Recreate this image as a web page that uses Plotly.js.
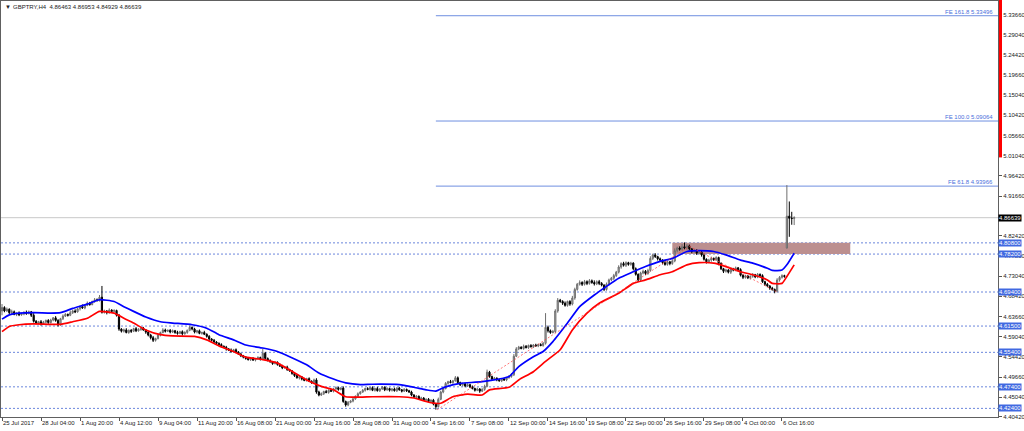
<!DOCTYPE html>
<html><head><meta charset="utf-8">
<script src="https://cdn.plot.ly/plotly-3.0.1.min.js"></script>
<style>html,body{margin:0;padding:0;background:#fff}#chart{width:1024px;height:431px}</style>
</head><body><div id="chart"></div>
<script>
// ---- data (H4 bars, index 0 = 25 Jul 2017 12:00) ----
const closes = [
4.658,4.650,4.654,4.646,4.648,4.642,4.645,4.641,4.643,4.647,
4.644,4.648,4.640,4.626,4.622,4.625,4.620,4.624,4.628,4.623,
4.629,4.634,4.628,4.618,4.632,4.638,4.642,4.640,4.646,4.650,
4.648,4.655,4.660,4.657,4.663,4.668,4.665,4.672,4.676,4.674,
4.682,4.647,4.650,4.646,4.652,4.649,4.651,4.640,4.608,4.603,
4.606,4.600,4.605,4.603,4.609,4.604,4.607,4.610,4.606,4.601,
4.594,4.588,4.582,4.586,4.594,4.600,4.606,4.603,4.605,4.601,
4.604,4.600,4.598,4.602,4.597,4.600,4.605,4.612,4.608,4.601,
4.604,4.598,4.600,4.596,4.591,4.585,4.582,4.578,4.575,4.572,
4.568,4.566,4.562,4.559,4.556,4.560,4.555,4.550,4.546,4.543,
4.540,4.537,4.540,4.536,4.539,4.542,4.538,4.552,4.540,4.535,
4.532,4.528,4.531,4.526,4.522,4.518,4.520,4.514,4.511,4.505,
4.500,4.495,4.497,4.492,4.489,4.493,4.487,4.484,4.490,4.462,
4.455,4.458,4.463,4.461,4.466,4.464,4.469,4.472,4.468,4.471,
4.440,4.432,4.438,4.441,4.446,4.452,4.458,4.462,4.466,4.470,
4.468,4.472,4.466,4.470,4.465,4.469,4.473,4.467,4.470,4.466,
4.469,4.465,4.471,4.467,4.464,4.468,4.465,4.462,4.455,4.450,
4.452,4.446,4.448,4.443,4.445,4.440,4.443,4.434,4.428,4.445,
4.462,4.470,4.482,4.486,4.484,4.488,4.495,4.484,4.478,4.481,
4.476,4.479,4.474,4.470,4.466,4.469,4.464,4.468,4.475,4.508,
4.498,4.492,4.494,4.490,4.488,4.492,4.490,4.495,4.498,4.502,
4.545,4.562,4.566,4.563,4.568,4.565,4.570,4.567,4.571,4.569,
4.572,4.570,4.575,4.612,4.604,4.600,4.602,4.650,4.675,4.672,
4.668,4.663,4.672,4.666,4.680,4.700,4.712,4.716,4.712,4.718,
4.714,4.720,4.716,4.713,4.718,4.714,4.710,4.700,4.712,4.722,
4.726,4.732,4.740,4.752,4.760,4.756,4.762,4.758,4.761,4.748,
4.735,4.722,4.738,4.742,4.737,4.744,4.772,4.780,4.776,4.771,
4.768,4.762,4.758,4.764,4.760,4.766,4.790,4.796,4.793,4.799,
4.796,4.801,4.794,4.788,4.791,4.784,4.787,4.780,4.770,4.764,
4.768,4.772,4.769,4.774,4.760,4.748,4.742,4.745,4.740,4.748,
4.745,4.750,4.746,4.733,4.728,4.731,4.727,4.730,4.734,4.729,
4.735,4.732,4.718,4.712,4.708,4.703,4.700,4.696,4.722,4.728,
4.732,4.730,4.870,4.865,4.86463,4.86639];

// wick lengths in thousandths of a lira
const upperWick = [
8,3,4,2,5,3,2,4,3,2, 4,3,2,5,3,2,4,3,2,3, 3,2,4,3,2,4,3,2,5,3, 4,2,3,5,2,4,3,2,4,3,
5,26,3,2,4,2,3,2,3,2, 3,4,2,3,2,4,3,2,3,2, 2,3,4,2,3,2,4,3,2,3, 3,2,4,2,3,3,2,4,2,3,
2,3,2,4,2,3,2,3,2,2, 3,2,3,2,4,2,3,2,3,2, 2,3,2,3,2,3,2,11,3,2, 3,2,3,2,2,3,2,3,2,2,
3,2,4,2,3,2,3,2,3,4, 3,3,2,4,2,3,2,3,2,2, 4,2,3,2,3,2,3,2,3,2, 3,2,3,2,4,2,3,2,3,2,
2,3,2,3,2,3,2,2,3,2, 3,2,3,2,2,3,2,3,2,4, 3,4,3,2,4,2,4,3,2,3, 2,3,2,3,2,3,2,3,4,6,
3,2,3,2,3,2,3,2,3,4, 5,4,3,2,4,3,2,3,2,3, 2,3,3,33,4,3,4,4,5,3, 3,4,2,3,5,4,3,5,3,4,
3,4,3,5,3,4,3,2,4,3, 3,4,3,4,3,4,3,2,3,2, 3,2,3,4,3,4,5,3,4,2, 3,2,4,3,2,4,5,3,4,6,
10,4,3,2,3,2,3,2,3,2, 3,4,2,3,2,3,2,3,2,3, 2,3,2,3,2,3,2,3,4,2, 3,2,3,2,3,2,3,2,4,3,
3,2,72,34,15,3.14];
const lowerWick = [
10,3,2,4,3,2,4,3,2,3, 3,2,4,3,3,2,4,2,3,3, 2,3,3,4,2,3,2,3,2,3, 3,2,4,2,3,2,3,2,3,2,
2,3,3,4,2,3,2,3,4,3, 3,2,3,4,2,3,2,3,2,4, 3,4,4,3,2,3,2,3,2,3, 2,3,3,2,4,2,3,2,3,3,
3,2,3,2,3,4,2,3,2,3, 3,2,4,2,3,2,3,2,3,3, 3,2,3,2,3,2,3,2,3,2, 2,3,2,3,2,3,2,3,2,3,
3,2,4,3,2,3,2,3,2,4, 3,2,3,2,3,2,3,2,3,2, 3,4,3,2,3,2,3,2,2,3, 2,3,2,3,2,3,2,3,2,3,
3,2,3,2,3,2,3,2,3,2, 3,2,3,2,3,2,3,3,7,2, 2,3,2,3,2,3,2,3,2,3, 3,2,3,2,3,2,4,2,3,2,
3,4,2,3,2,3,2,3,2,3, 3,2,3,2,3,2,3,2,3,2, 3,2,3,3,4,3,2,3,4,3, 4,3,3,4,3,4,3,3,4,3,
4,3,3,4,3,4,3,4,3,3, 3,4,3,3,4,3,4,3,3,4, 3,5,4,3,4,3,3,4,3,4, 3,4,3,3,4,3,3,4,3,3,
3,4,3,4,3,4,3,4,3,4, 3,4,3,3,4,3,4,3,3,4, 3,3,4,3,4,3,3,4,3,3, 3,4,3,4,3,4,3,5,3,4,
3,3,1,43,14.6,15.34];
const gapOpens = [[0, 4.650], [322, 4.796]];

const timeLabels = ['25 Jul 2017','28 Jul 04:00','1 Aug 20:00','4 Aug 12:00','9 Aug 04:00','11 Aug 20:00',
  '16 Aug 08:00','21 Aug 00:00','23 Aug 16:00','28 Aug 08:00','31 Aug 00:00','4 Sep 16:00','7 Sep 08:00',
  '12 Sep 00:00','14 Sep 16:00','19 Sep 08:00','22 Sep 00:00','26 Sep 16:00','29 Sep 08:00','4 Oct 00:00','6 Oct 16:00'];
const barsPerLabel = 16;

const priceTicks = [4.4042,4.4504,4.4966,4.5442,4.5904,4.6366,4.6842,4.7304,4.7780,4.8242,4.8704,
  4.9166,4.9642,5.0104,5.0566,5.1042,5.1504,5.1966,5.2442,5.2904,5.3366];

const supportLevels = [4.808, 4.782, 4.694, 4.615, 4.554, 4.474, 4.424];
const fibLevels = [5.33496, 5.09064, 4.93966];
const fibNames = ['FE 161.8', 'FE 100.0', 'FE 61.8'];
const fibAnchorBar = 178;
const currentPrice = 4.86639;
const lastBarOHLC = [4.86463, 4.86953, 4.84929, 4.86639];
const symbolName = 'GBPTRY,H4';
const zoneBars = [275, 348];
const zonePrices = [4.782, 4.808];

const blueMAx = [0,3,7,13,20,24,29,35,40,46,50,54,59,65,70,78,84,89,95,100,107,113,118,125,130,136,141,147,152,163,169,174,178,182,188,197,208,212,218,222,226,232,237,243,248,253,259,264,270,275,281,286,292,297,303,308,314,316,320,322,325];
const blueMAy = [4.631,4.641,4.645,4.646,4.645,4.646,4.656,4.666,4.676,4.672,4.660,4.649,4.636,4.625,4.622,4.618,4.610,4.595,4.583,4.571,4.564,4.556,4.544,4.525,4.506,4.492,4.483,4.479,4.480,4.479,4.473,4.467,4.464,4.474,4.482,4.486,4.498,4.521,4.544,4.556,4.579,4.622,4.660,4.687,4.707,4.726,4.741,4.753,4.765,4.772,4.788,4.790,4.788,4.780,4.768,4.761,4.749,4.744,4.745,4.757,4.784];
const redMAx = [0,3,7,13,24,29,35,40,46,50,54,59,65,70,79,84,89,95,100,107,113,118,125,131,136,141,147,152,163,169,174,177,180,185,191,197,200,208,212,218,223,229,234,240,245,253,259,264,270,275,281,286,292,297,303,308,314,316,320,322,325];
const redMAy = [4.602,4.614,4.618,4.620,4.619,4.625,4.633,4.649,4.645,4.633,4.622,4.606,4.595,4.592,4.591,4.583,4.569,4.556,4.543,4.537,4.529,4.513,4.490,4.475,4.467,4.451,4.450,4.451,4.451,4.448,4.440,4.436,4.436,4.451,4.457,4.455,4.467,4.473,4.490,4.509,4.533,4.560,4.606,4.645,4.668,4.691,4.714,4.722,4.734,4.741,4.757,4.762,4.761,4.753,4.741,4.734,4.722,4.714,4.714,4.730,4.757];

const trendUpX = [178.5, 282];
const trendUpY = [4.4206, 4.800];
const trendDownX = [282, 318];
const trendDownY = [4.800, 4.694];

// ---- build ----
const idx = closes.map((_, i) => i);
const opens = closes.map((c, i) => i > 0 ? closes[i - 1] : c);
gapOpens.forEach(([i, v]) => { opens[i] = v; });
const highs = closes.map((c, i) => Math.max(c, opens[i]) + upperWick[i] / 1000);
const lows = closes.map((c, i) => Math.min(c, opens[i]) - lowerWick[i] / 1000);

const fmt = v => v.toFixed(5);
const FONT = 'Liberation Sans, Arial, sans-serif';
const xRange = [-0.41, 408.62];
const yRange = [4.4040, 5.3691];
// the tick hidden behind the current-price box in the reference is left without text
const tickText = priceTicks.map(v => Math.abs(v - currentPrice) < 0.006 ? '' : fmt(v));

const traces = [
  {type:'candlestick', x: idx, open: opens, high: highs, low: lows, close: closes,
   increasing:{line:{color:'#6e6e6e', width:1}, fillcolor:'#b4b4b4'},
   decreasing:{line:{color:'#000000', width:1}, fillcolor:'#000000'},
   whiskerwidth:0, hoverinfo:'skip'},
  {type:'scatter', mode:'lines', x: blueMAx, y: blueMAy, line:{color:'#0000ff', width:1.7, shape:'spline', smoothing:0.5}, hoverinfo:'skip'},
  {type:'scatter', mode:'lines', x: redMAx, y: redMAy, line:{color:'#ff0000', width:1.7, shape:'spline', smoothing:0.5}, hoverinfo:'skip'},
  {type:'scatter', mode:'lines', x: trendUpX, y: trendUpY, line:{color:'rgba(255,60,60,0.7)', width:1, dash:'2px,2px'}, hoverinfo:'skip'},
  {type:'scatter', mode:'lines', x: trendDownX, y: trendDownY, line:{color:'rgba(255,60,60,0.7)', width:1, dash:'2px,2px'}, hoverinfo:'skip'}
];

const shapes = [];
shapes.push({type:'rect', xref:'x', yref:'y', x0: zoneBars[0], x1: zoneBars[1], y0: zonePrices[0], y1: zonePrices[1],
  fillcolor:'#bc8f8f', line:{width:0}, layer:'below'});
shapes.push({type:'line', xref:'paper', yref:'y', x0:0, x1:1, y0: currentPrice, y1: currentPrice,
  line:{color:'#c8c8c8', width:1}, layer:'below'});
supportLevels.forEach(v => shapes.push({type:'line', xref:'paper', yref:'y', x0:0, x1:1, y0:v, y1:v,
  line:{color:'#6a86dc', width:1, dash:'2px,2px'}, layer:'below'}));
fibLevels.forEach(v => shapes.push({type:'line', xref:'x', yref:'y', x0: fibAnchorBar, x1: xRange[1], y0:v, y1:v,
  line:{color:'#6f8fe0', width:1}, layer:'below'}));
// red side marker right of the price scale
shapes.push({type:'line', xref:'paper', yref:'paper', x0:1.0025, x1:1.0025, y0:0.624, y1:1.003,
  line:{color:'#ff0000', width:3}});

const annotations = [];
annotations.push({xref:'paper', yref:'paper', x:0, y:1, xanchor:'left', yanchor:'top', xshift:2, yshift:-1,
  text:'▼', showarrow:false, font:{family:FONT, size:6, color:'#222'}});
annotations.push({xref:'paper', yref:'paper', x:0, y:1, xanchor:'left', yanchor:'top', xshift:10, yshift:-1,
  text: symbolName + '  ' + lastBarOHLC.map(fmt).join(' '), showarrow:false, font:{family:FONT, size:6, color:'#222'}});
supportLevels.forEach(v => annotations.push({xref:'paper', yref:'y', x:1, y:v, xanchor:'left', yanchor:'middle',
  text: fmt(v), showarrow:false, bgcolor:'#4169e1', borderpad:0, font:{family:FONT, size:6, color:'#ffffff'}}));
annotations.push({xref:'paper', yref:'y', x:1, y:currentPrice, xanchor:'left', yanchor:'middle',
  text: fmt(currentPrice), showarrow:false, bgcolor:'#000000', borderpad:0, font:{family:FONT, size:6, color:'#ffffff'}});
fibLevels.forEach((v, k) => annotations.push({xref:'paper', yref:'y', x:0.997, y:v, xanchor:'right', yanchor:'bottom',
  yshift:-1, text: fibNames[k] + ' ' + fmt(v), showarrow:false, font:{family:FONT, size:6, color:'#4a6fdc'}}));

const layout = {
  width:1024, height:431, margin:{l:1, r:26, t:1, b:14},
  paper_bgcolor:'#ffffff', plot_bgcolor:'#ffffff', showlegend:false,
  xaxis:{range:xRange, tickvals: timeLabels.map((_, k) => k * barsPerLabel), ticktext: timeLabels,
    tickangle:0, automargin:false,
    ticks:'outside', ticklen:3, tickcolor:'#555', showgrid:false, zeroline:false,
    showline:true, linecolor:'#606060', linewidth:1, mirror:true,
    ticklabelposition:'outside right', tickfont:{family:FONT, size:6, color:'#222'},
    rangeslider:{visible:false}, fixedrange:true},
  yaxis:{side:'right', range:yRange, tickvals: priceTicks, ticktext: tickText, automargin:false,
    ticks:'outside', ticklen:3, tickcolor:'#555', showgrid:false, zeroline:false,
    showline:true, linecolor:'#606060', linewidth:1, mirror:true,
    tickfont:{family:FONT, size:6, color:'#222'}, fixedrange:true},
  shapes, annotations
};

Plotly.newPlot('chart', traces, layout, {staticPlot:true, displayModeBar:false});
</script></body></html>
